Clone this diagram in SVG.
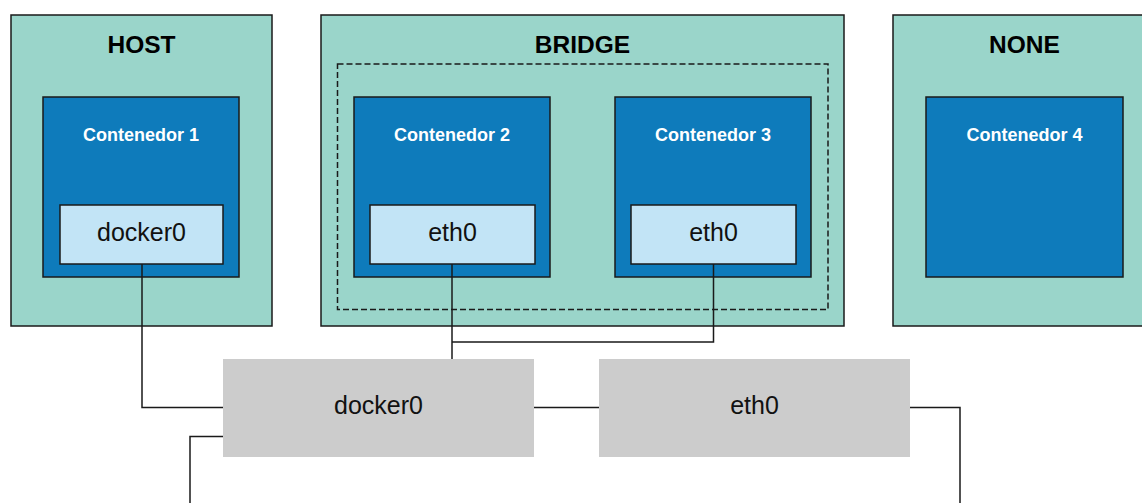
<svg xmlns="http://www.w3.org/2000/svg" width="1142" height="503" viewBox="0 0 1142 503">
<style>
.zone{fill:#9AD5CA;stroke:#1a1a1a;stroke-width:1.5}
.cont{fill:#0E7BBB;stroke:#1a1a1a;stroke-width:1.5}
.iface{fill:#C2E4F6;stroke:#1a1a1a;stroke-width:1.5}
.host{fill:#CCCCCC}
.dash{fill:none;stroke:#1a1a1a;stroke-width:1.5;stroke-dasharray:6 3}
.title{font-family:"Liberation Sans",Arial,sans-serif;font-weight:bold;font-size:24.5px;fill:#000;text-anchor:middle}
.ctitle{font-family:"Liberation Sans",Arial,sans-serif;font-weight:bold;font-size:18px;fill:#fff;text-anchor:middle}
.label{font-family:"Liberation Sans",Arial,sans-serif;font-size:25px;fill:#111;text-anchor:middle}
.conn{fill:none;stroke:#1a1a1a;stroke-width:1.5}
</style>
<rect width="1142" height="503" fill="#fff"/>
<g id="host-zone">
<rect class="zone" x="11" y="15" width="261" height="311"/>
<text class="title" x="141.5" y="53">HOST</text>
</g>
<g id="bridge-zone">
<rect class="zone" x="321" y="15" width="523" height="311"/>
<text class="title" x="582.5" y="53">BRIDGE</text>
<rect class="dash" x="337.5" y="64" width="490.5" height="245.5"/>
</g>
<g id="none-zone">
<rect class="zone" x="893" y="15" width="264" height="311"/>
<text class="title" x="1024.5" y="53">NONE</text>
</g>
<g id="contenedor1">
<rect class="cont" x="43" y="97" width="196" height="180"/>
<text class="ctitle" x="141" y="141">Contenedor 1</text>
</g>
<g id="c1-docker0">
<rect class="iface" x="60" y="205" width="163" height="59"/>
<text class="label" x="141.5" y="241">docker0</text>
</g>
<g id="contenedor2">
<rect class="cont" x="354" y="97" width="196" height="180"/>
<text class="ctitle" x="452" y="141">Contenedor 2</text>
</g>
<g id="c2-eth0">
<rect class="iface" x="370" y="205" width="165" height="59"/>
<text class="label" x="452.5" y="241">eth0</text>
</g>
<g id="contenedor3">
<rect class="cont" x="615" y="97" width="196" height="180"/>
<text class="ctitle" x="713" y="141">Contenedor 3</text>
</g>
<g id="c3-eth0">
<rect class="iface" x="631" y="205" width="165" height="59"/>
<text class="label" x="713.5" y="241">eth0</text>
</g>
<g id="contenedor4">
<rect class="cont" x="926" y="97" width="197" height="180"/>
<text class="ctitle" x="1024.5" y="141">Contenedor 4</text>
</g>
<g id="connectors">
<path class="conn" d="M142 264 V407.5 H223"/>
<path class="conn" d="M452 264 V359"/>
<path class="conn" d="M713.5 264 V342 H452"/>
<path class="conn" d="M534 407.5 H599"/>
<path class="conn" d="M223 436.5 H190 V503"/>
<path class="conn" d="M910 407.5 H960 V503"/>
</g>
<g id="host-docker0">
<rect class="host" x="223" y="359" width="311" height="98"/>
<text class="label" x="378.5" y="414">docker0</text>
</g>
<g id="host-eth0">
<rect class="host" x="599" y="359" width="311" height="98"/>
<text class="label" x="754.5" y="414">eth0</text>
</g>
</svg>
